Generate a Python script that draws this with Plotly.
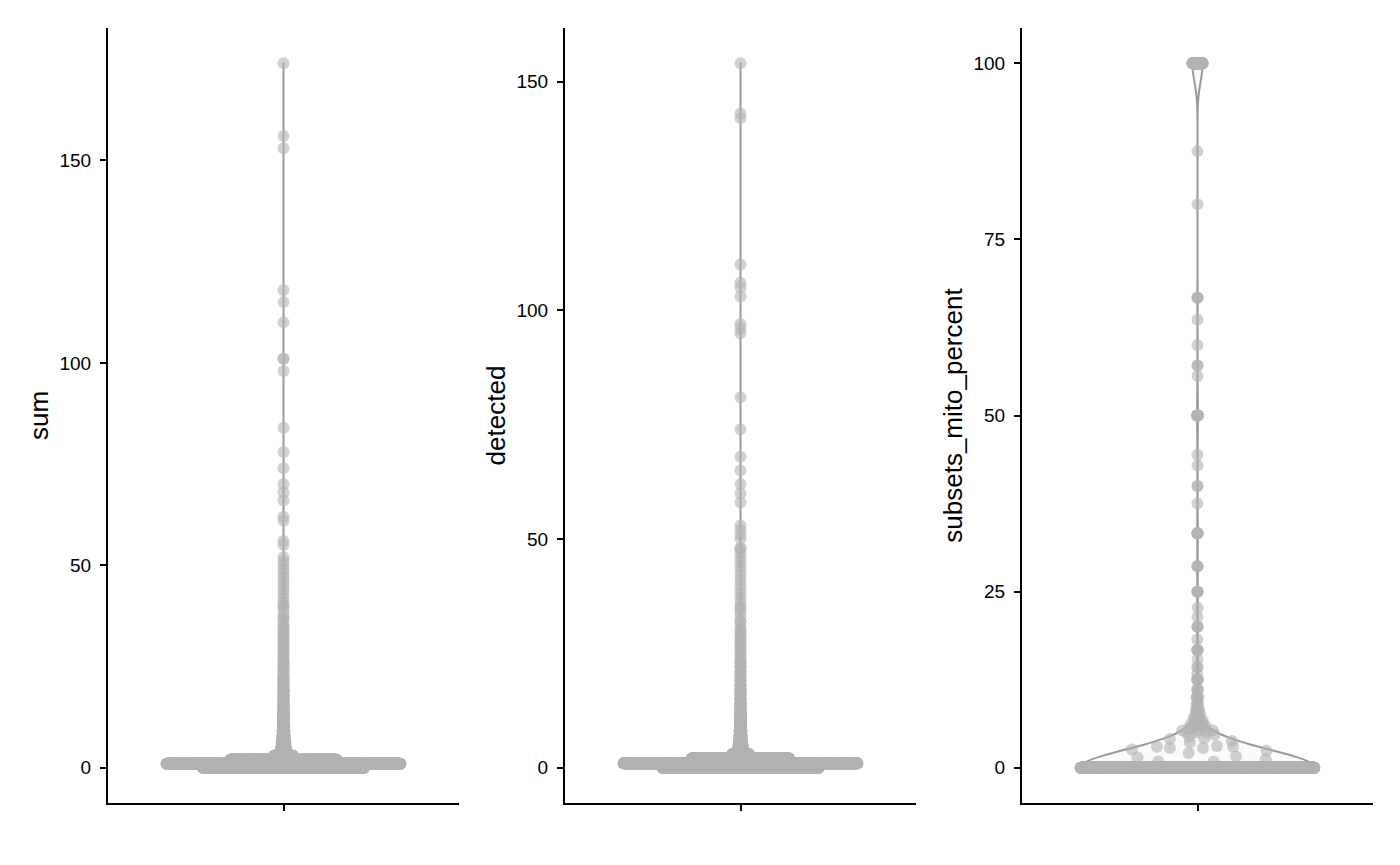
import numpy as np
import plotly.graph_objects as go

# ---------------- data (value -> number of cells) ----------------
sum_values = [0, 1, 2, 3, 4, 5, 6, 7, 8, 9, 10, 11, 12, 13, 14, 15, 16, 17, 18, 19,
              20, 21, 22, 23, 24, 25, 26, 27, 28, 29, 30, 31, 32, 33, 34, 35, 36, 37,
              38, 39, 40, 41, 42, 43, 44, 45, 46, 47, 48, 49, 50, 51, 52, 55, 56, 61,
              62, 66, 68, 70, 74, 78, 84, 98, 101, 110, 115, 118, 153, 156, 174]
sum_counts = [1520, 2200, 1000, 180, 60, 45, 35, 28, 22, 18, 15, 12, 10, 9, 8, 7, 6, 6, 5, 5,
              4, 4, 4, 3, 3, 3, 3, 2, 2, 2, 2, 2, 2, 2, 2, 2, 1, 2,
              1, 1, 2, 1, 1, 1, 1, 1, 1, 1, 1, 1, 1, 1, 1, 1, 1, 1,
              1, 1, 1, 1, 1, 1, 1, 1, 2, 1, 1, 1, 1, 1, 1]

detected_values = [0, 1, 2, 3, 4, 5, 6, 7, 8, 9, 10, 11, 12, 13, 14, 15, 16, 17, 18, 19,
                   20, 21, 22, 23, 24, 25, 26, 27, 28, 29, 30, 31, 32, 33, 34, 35, 36, 37,
                   38, 39, 40, 41, 42, 43, 44, 45, 46, 47, 48, 50, 51, 52, 53, 58, 60, 62,
                   65, 68, 74, 81, 95, 96, 97, 103, 105, 106, 110, 142, 143, 154]
detected_counts = [1520, 2270, 950, 160, 55, 40, 30, 24, 20, 16, 13, 11, 9, 8, 7, 6, 5, 5, 4, 4,
                   3, 3, 3, 3, 2, 2, 2, 2, 2, 2, 2, 1, 2, 1, 1, 2, 1, 1,
                   1, 1, 1, 1, 1, 1, 1, 1, 1, 1, 2, 1, 1, 1, 1, 1, 1, 1,
                   1, 1, 1, 1, 1, 1, 1, 1, 1, 1, 1, 1, 1, 1]

mito_values = [0, 0.9, 1.2, 1.5, 1.6, 2.1, 2.4, 2.6, 2.8, 3.0, 3.1, 3.6, 3.8, 4.1, 4.2, 4.4,
               4.7, 5.0, 5.3, 5.6, 5.9, 6.25, 6.7, 7.1, 7.7, 8.3, 9.1, 10, 11.1, 12.5, 13.3,
               14.3, 15.4, 16.7, 18.2, 20, 21.4, 22.7, 25, 28.6, 33.3, 37.5, 40, 42.9, 44.4,
               50, 55.6, 57.1, 60, 63.6, 66.7, 80, 87.5, 100]
mito_counts = [3400, 2, 1, 1, 1, 1, 1, 1, 2, 2, 1, 1, 1, 1, 1, 1,
               1, 3, 3, 3, 3, 4, 4, 4, 4, 4, 3, 4, 3, 4, 1,
               2, 1, 4, 1, 3, 1, 1, 4, 3, 5, 1, 2, 1, 1,
               12, 1, 2, 1, 1, 3, 1, 1, 150]

panels = [
    ("sum", sum_values, sum_counts, 0.12, [0, 50, 100, 150]),
    ("detected", detected_values, detected_counts, 0.12, [0, 50, 100, 150]),
    ("subsets_mito_percent", mito_values, mito_counts, 2.6, [0, 25, 50, 75, 100]),
]

W, H = 1400, 865
OFF = 8  # page offset of the figure div
x_domains = [[(108 - OFF) / W, (459 - OFF) / W],
             [(565 - OFF) / W, (916 - OFF) / W],
             [(1022 - OFF) / W, (1373 - OFF) / W]]
y_domain = [1 - (803 - OFF) / H, 1 - (28 - OFF) / H]

POINT_WIDTH = 0.4
VIOLIN_WIDTH = 0.8


def van_der_corput(n, base=2):
    out = np.empty(n)
    for i in range(1, n + 1):
        q, denom, x = i, 1.0, 0.0
        while q:
            denom *= base
            q, r = divmod(q, base)
            x += r / denom
        out[i - 1] = x
    return out


def quasirandom_offsets(vals_u, counts, bw):
    vals_u = np.asarray(vals_u, float)
    counts = np.asarray(counts, float)
    d = vals_u[:, None] - vals_u[None, :]
    dens = (np.exp(-0.5 * (d / bw) ** 2) * counts[None, :]).sum(axis=1)
    dens = dens / dens.max()
    y = np.repeat(vals_u, counts.astype(int))
    dens_pts = np.repeat(dens, counts.astype(int))
    vdc = van_der_corput(len(y))
    x = (vdc - 0.5) * 2 * POINT_WIDTH * dens_pts
    return x, y


fig = go.Figure()
font_family = "Liberation Sans, Arial, Helvetica, sans-serif"

for i, (title, vals, cnts, bw, ticks) in enumerate(panels):
    xa = "x" if i == 0 else f"x{i + 1}"
    ya = "y" if i == 0 else f"y{i + 1}"
    px, py = quasirandom_offsets(vals, cnts, bw)
    fig.add_trace(go.Violin(
        y=py, x0=0, xaxis=xa, yaxis=ya,
        width=VIOLIN_WIDTH, scalemode="width", spanmode="hard", bandwidth=bw,
        points=False, line=dict(color="#999999", width=2),
        fillcolor="rgba(229,229,229,0.2)", showlegend=False, hoverinfo="skip",
    ))
    fig.add_trace(go.Scatter(
        x=px, y=py, mode="markers", xaxis=xa, yaxis=ya,
        marker=dict(size=12, color="rgba(179,179,179,0.6)", line=dict(width=0)),
        showlegend=False, hoverinfo="skip",
    ))
    ymax = max(vals)
    pad = 0.05 * ymax
    key = "" if i == 0 else str(i + 1)
    fig.layout["xaxis" + key] = dict(
        domain=x_domains[i], anchor=ya, range=[-0.6, 0.6],
        showline=True, linecolor="black", linewidth=2, mirror=False,
        ticks="outside", ticklen=6, tickwidth=1.6, tickcolor="black",
        tickvals=[0], ticktext=[""], showgrid=False, zeroline=False,
    )
    fig.layout["yaxis" + key] = dict(
        domain=y_domain, anchor=xa, range=[-pad, ymax + pad],
        showline=True, linecolor="black", linewidth=2,
        ticks="outside", ticklen=6, tickwidth=1.6, tickcolor="black",
        ticklabelstandoff=5,
        tickvals=ticks, ticktext=[str(t) for t in ticks],
        tickfont=dict(size=19, color="black", family=font_family),
        showgrid=False, zeroline=False,
        title=dict(text=title, font=dict(size=26, color="black", family=font_family), standoff=3),
    )

fig.update_layout(
    width=W, height=H,
    margin=dict(l=0, r=0, t=0, b=0),
    paper_bgcolor="white", plot_bgcolor="white",
    font=dict(family=font_family, color="black"),
    violinmode="overlay",
)

fig.write_html("out.html")
